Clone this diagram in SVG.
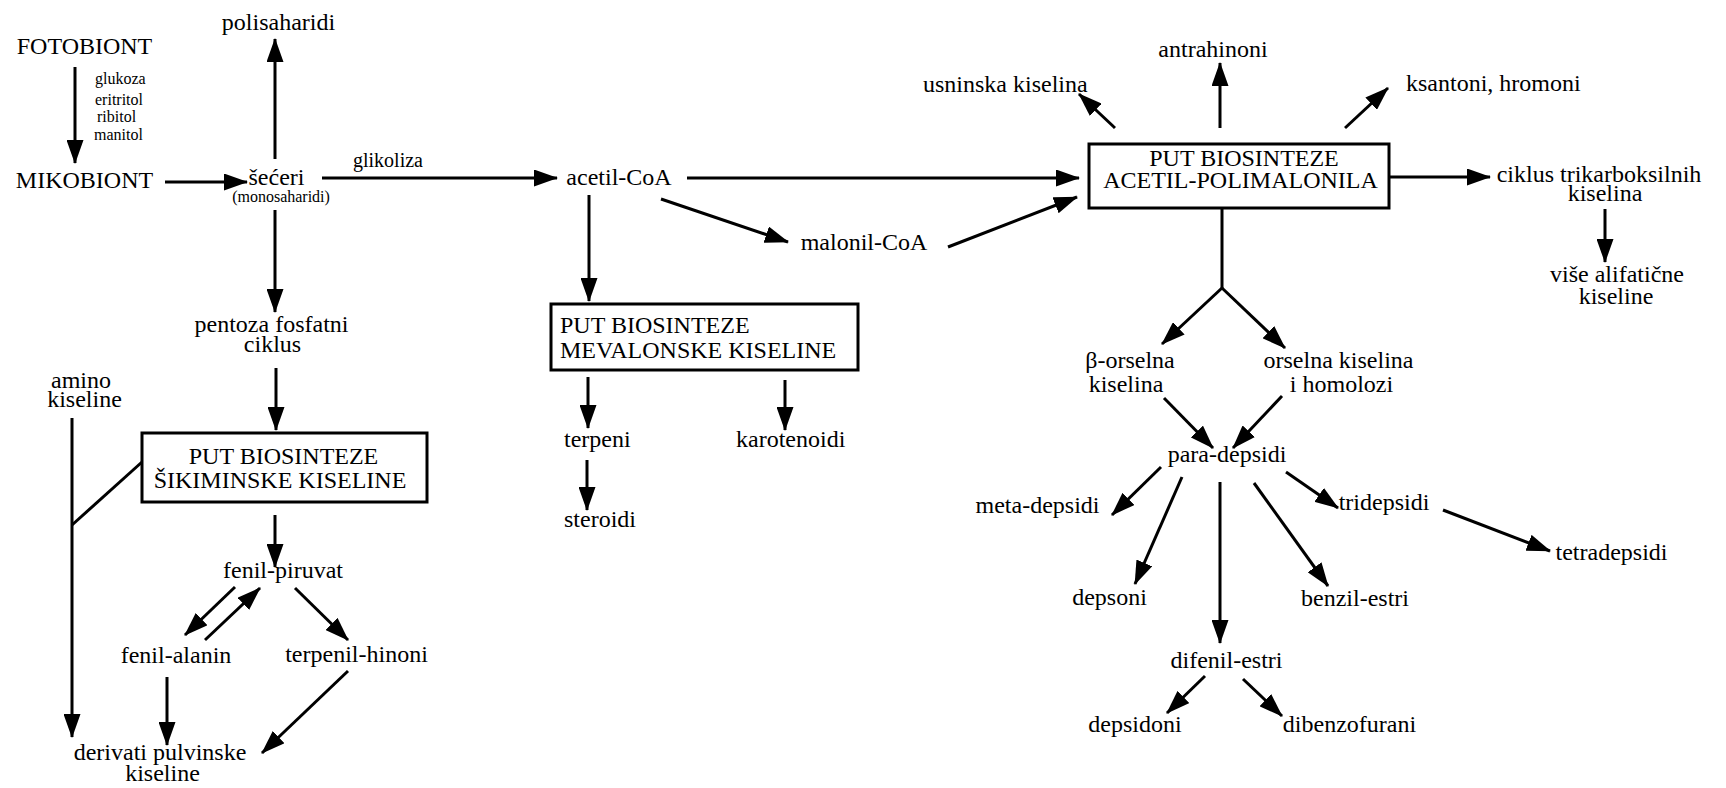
<svg xmlns="http://www.w3.org/2000/svg" width="1726" height="788" viewBox="0 0 1726 788">
<defs>
<marker id="ah" markerUnits="userSpaceOnUse" markerWidth="24" markerHeight="17" viewBox="0 0 24 17" refX="23" refY="8.5" orient="auto">
<path d="M0,0 L24,8.5 L0,17 z" fill="#000"/>
</marker>
</defs>
<style>
text{font-family:"Liberation Serif","Times New Roman",serif;font-size:24px;fill:#000}
.c{text-anchor:middle}
.s{font-size:16px}
.g{font-size:20px}
.box{fill:#fff;stroke:#000;stroke-width:3}
.e{stroke:#000;stroke-width:3;fill:none}
.a{marker-end:url(#ah)}
</style>
<rect width="1726" height="788" fill="#fff"/>
<g id="connectors">
<line class="e a" x1="75" y1="67" x2="75" y2="163"/>
<line class="e a" x1="165" y1="182" x2="247" y2="182"/>
<line class="e a" x1="275" y1="159" x2="275" y2="39"/>
<line class="e a" x1="322" y1="178" x2="557" y2="178"/>
<line class="e a" x1="275" y1="210" x2="275" y2="312"/>
<line class="e a" x1="276" y1="368" x2="276" y2="430"/>
<line class="e a" x1="72" y1="418" x2="72" y2="737"/>
<line class="e" x1="142" y1="462" x2="72" y2="525"/>
<line class="e a" x1="275" y1="515" x2="275" y2="567"/>
<line class="e a" x1="235" y1="587" x2="185" y2="635"/>
<line class="e a" x1="205" y1="640" x2="260" y2="588"/>
<line class="e a" x1="295" y1="588" x2="348" y2="640"/>
<line class="e a" x1="167" y1="677" x2="167" y2="745"/>
<line class="e a" x1="348" y1="671" x2="262" y2="753"/>
<line class="e a" x1="687" y1="178" x2="1079" y2="178"/>
<line class="e a" x1="589" y1="195" x2="589" y2="301"/>
<line class="e a" x1="661" y1="199" x2="788" y2="242"/>
<line class="e a" x1="948" y1="247" x2="1077" y2="197"/>
<line class="e a" x1="588" y1="377" x2="588" y2="428"/>
<line class="e a" x1="785" y1="380" x2="785" y2="430"/>
<line class="e a" x1="587" y1="460" x2="587" y2="510"/>
<line class="e a" x1="1115" y1="128" x2="1079" y2="94"/>
<line class="e a" x1="1220" y1="128" x2="1220" y2="63"/>
<line class="e a" x1="1345" y1="128" x2="1388" y2="88"/>
<line class="e a" x1="1389" y1="177" x2="1490" y2="177"/>
<line class="e a" x1="1605" y1="209" x2="1605" y2="262"/>
<line class="e" x1="1222" y1="208" x2="1222" y2="288"/>
<line class="e a" x1="1222" y1="288" x2="1162" y2="344"/>
<line class="e a" x1="1222" y1="288" x2="1285" y2="348"/>
<line class="e a" x1="1164" y1="398" x2="1213" y2="448"/>
<line class="e a" x1="1282" y1="396" x2="1233" y2="448"/>
<line class="e a" x1="1161" y1="467" x2="1112" y2="515"/>
<line class="e a" x1="1182" y1="477" x2="1135" y2="584"/>
<line class="e a" x1="1220" y1="482" x2="1220" y2="643"/>
<line class="e a" x1="1254" y1="483" x2="1328" y2="586"/>
<line class="e a" x1="1286" y1="472" x2="1338" y2="508"/>
<line class="e a" x1="1443" y1="510" x2="1550" y2="551"/>
<line class="e a" x1="1205" y1="676" x2="1167" y2="713"/>
<line class="e a" x1="1243" y1="679" x2="1282" y2="716"/>
</g>
<g id="fotobiont"><text class="c" x="84.5" y="54">FOTOBIONT</text></g>
<g id="transfer-label">
<text class="s"><tspan x="95" y="84">glukoza</tspan><tspan x="95" y="105">eritritol</tspan><tspan x="97" y="122">ribitol</tspan><tspan x="94" y="140">manitol</tspan></text>
</g>
<g id="mikobiont"><text class="c" x="84.5" y="188">MIKOBIONT</text></g>
<g id="polisaharidi"><text class="c" x="278.5" y="30">polisaharidi</text></g>
<g id="seceri">
<text class="c"><tspan x="276.5" y="185">šećeri</tspan><tspan class="s" x="281" y="202">(monosaharidi)</tspan></text>
</g>
<g id="glikoliza"><text class="c g" x="388" y="167">glikoliza</text></g>
<g id="acetil-coa"><text class="c" x="619" y="185">acetil-CoA</text></g>
<g id="malonil-coa"><text class="c" x="864" y="250">malonil-CoA</text></g>
<g id="pentoza">
<text class="c"><tspan x="271.5" y="332">pentoza fosfatni</tspan><tspan x="272.5" y="352">ciklus</tspan></text>
</g>
<g id="amino">
<text class="c"><tspan x="81" y="388">amino</tspan><tspan x="84.5" y="407">kiseline</tspan></text>
</g>
<g id="sikiminska">
<rect class="box" x="142" y="433" width="285" height="69"/>
<text class="c"><tspan x="283.5" y="464">PUT BIOSINTEZE</tspan><tspan x="280" y="488">ŠIKIMINSKE KISELINE</tspan></text>
</g>
<g id="fenil-piruvat"><text class="c" x="283" y="578">fenil-piruvat</text></g>
<g id="fenil-alanin"><text class="c" x="176" y="663">fenil-alanin</text></g>
<g id="terpenil-hinoni"><text class="c" x="356.5" y="662">terpenil-hinoni</text></g>
<g id="pulvinska">
<text class="c"><tspan x="160" y="760">derivati pulvinske</tspan><tspan x="162.5" y="781">kiseline</tspan></text>
</g>
<g id="mevalonska">
<rect class="box" x="551" y="304" width="307" height="66"/>
<text><tspan x="560" y="333">PUT BIOSINTEZE</tspan><tspan x="560" y="358">MEVALONSKE KISELINE</tspan></text>
</g>
<g id="terpeni"><text x="564" y="447">terpeni</text></g>
<g id="karotenoidi"><text x="736" y="447">karotenoidi</text></g>
<g id="steroidi"><text x="564" y="527">steroidi</text></g>
<g id="polimalonil">
<rect class="box" x="1089" y="144" width="300" height="64"/>
<text class="c"><tspan x="1244" y="166">PUT BIOSINTEZE</tspan><tspan x="1240.5" y="188">ACETIL-POLIMALONILA</tspan></text>
</g>
<g id="antrahinoni"><text class="c" x="1213" y="57">antrahinoni</text></g>
<g id="usninska"><text x="923" y="92">usninska kiselina</text></g>
<g id="ksantoni"><text x="1406" y="91">ksantoni, hromoni</text></g>
<g id="ciklus">
<text class="c"><tspan x="1599" y="182">ciklus trikarboksilnih</tspan><tspan x="1605" y="201">kiselina</tspan></text>
</g>
<g id="alifaticne">
<text class="c"><tspan x="1617" y="282">više alifatične</tspan><tspan x="1616" y="304">kiseline</tspan></text>
</g>
<g id="beta-orselna">
<text class="c"><tspan x="1130" y="368">β-orselna</tspan><tspan x="1126" y="392">kiselina</tspan></text>
</g>
<g id="orselna">
<text class="c"><tspan x="1338.5" y="368">orselna kiselina</tspan><tspan x="1341.5" y="392">i homolozi</tspan></text>
</g>
<g id="para-depsidi"><text class="c" x="1227" y="462">para-depsidi</text></g>
<g id="meta-depsidi"><text class="c" x="1037.5" y="513">meta-depsidi</text></g>
<g id="tridepsidi"><text class="c" x="1384" y="510">tridepsidi</text></g>
<g id="tetradepsidi"><text class="c" x="1611.5" y="560">tetradepsidi</text></g>
<g id="depsoni"><text class="c" x="1109.5" y="605">depsoni</text></g>
<g id="benzil-estri"><text class="c" x="1355" y="606">benzil-estri</text></g>
<g id="difenil-estri"><text class="c" x="1226.5" y="668">difenil-estri</text></g>
<g id="depsidoni"><text class="c" x="1135" y="732">depsidoni</text></g>
<g id="dibenzofurani"><text class="c" x="1349.5" y="732">dibenzofurani</text></g>
</svg>
